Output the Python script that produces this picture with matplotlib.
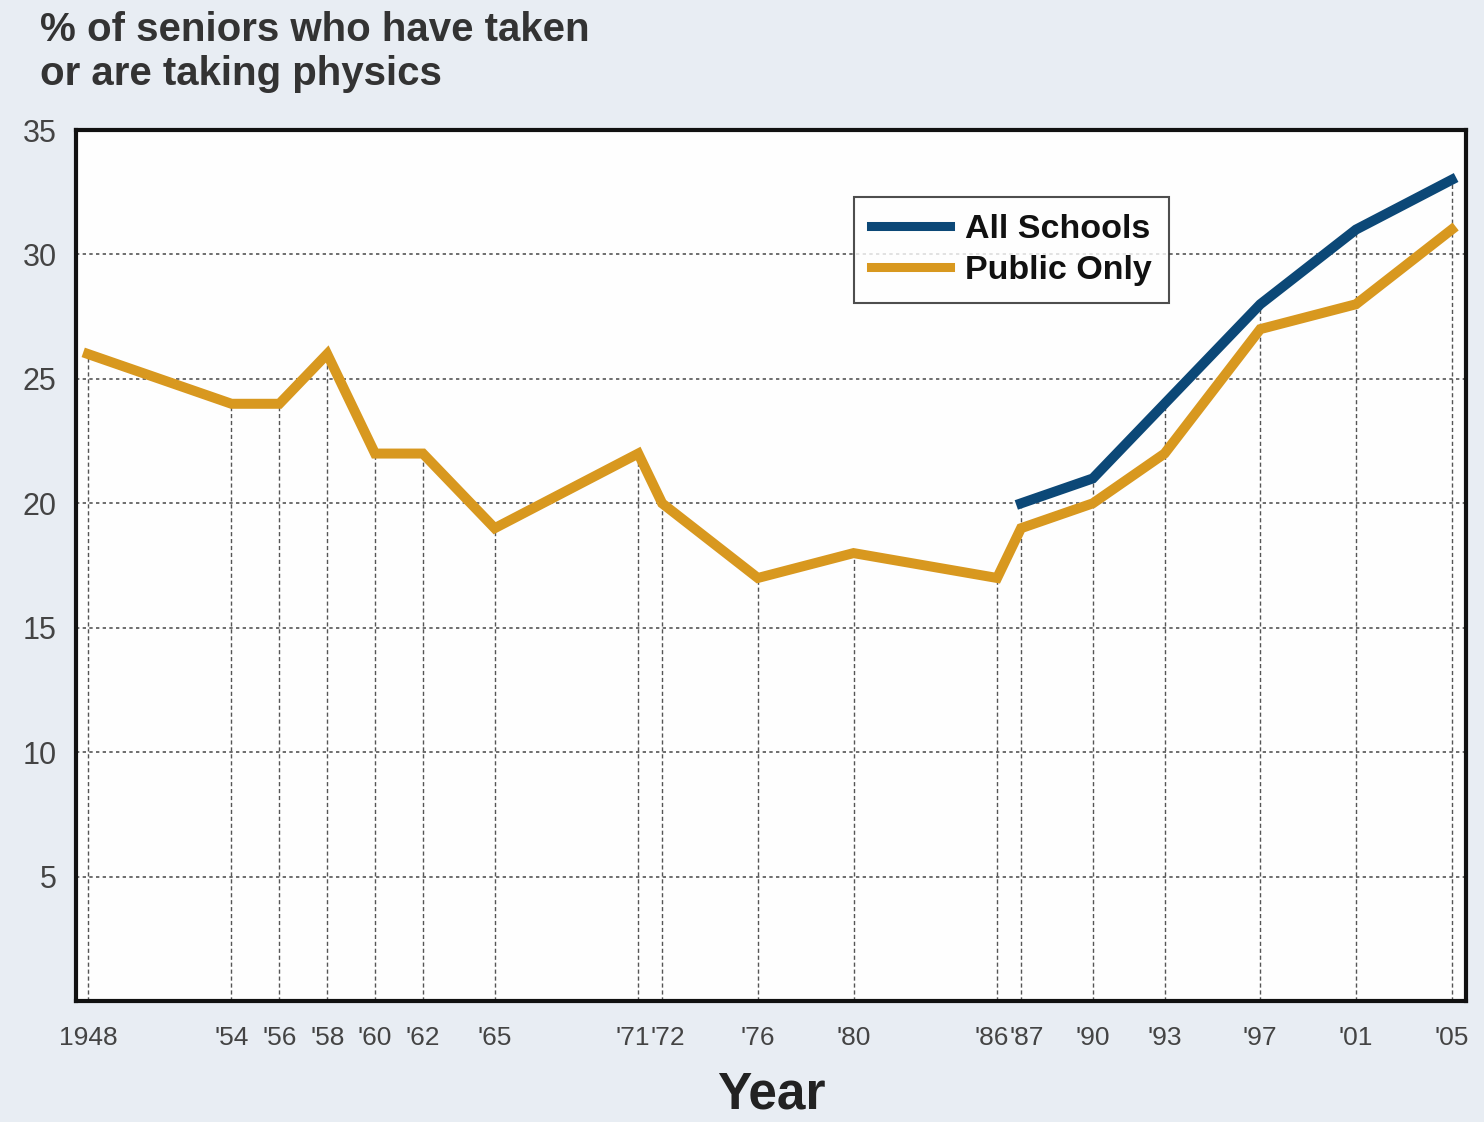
import matplotlib
matplotlib.use("Agg")
import matplotlib.pyplot as plt
import matplotlib.transforms as mtransforms

# survey years and percentages
years = [1948, 1954, 1956, 1958, 1960, 1962, 1965, 1971, 1972, 1976,
         1980, 1986, 1987, 1990, 1993, 1997, 2001, 2005]
public_only = [26, 24, 24, 26, 22, 22, 19, 22, 20, 17,
               18, 17, 19, 20, 22, 27, 28, 31]
all_years = [1987, 1990, 1993, 1997, 2001, 2005]
all_schools = [20, 21, 24, 28, 31, 33]
year_labels = ["1948", "'54", "'56", "'58", "'60", "'62", "'65", "'71", "'72", "'76",
               "'80", "'86", "'87", "'90", "'93", "'97", "'01", "'05"]
y_ticks = [5, 10, 15, 20, 25, 30, 35]

BLUE = "#0c4877"
GOLD = "#d8981f"
BG = "#e8edf3"
TICK_FONT = ["Liberation Sans", "DejaVu Sans"]

fig = plt.figure(figsize=(14.84, 11.22), dpi=100, facecolor=BG)
ax = fig.add_axes([0.0512, 0.1078, 0.9367, 0.7763])
ax.set_facecolor("#fefefe")

ax.set_xlim(1947.5, 2005.6)
ax.set_ylim(0, 35)

# dotted horizontal reference lines
for v in y_ticks[:-1]:
    ax.axhline(v, color="#555555", lw=1.2, ls=(0, (2, 2)), zorder=1)

# dashed drop lines from each survey point down to the axis
top_vals = dict(zip(years, public_only))
for yr, v in zip(all_years, all_schools):
    top_vals[yr] = max(top_vals[yr], v)
for yr in years:
    ax.plot([yr, yr], [0, top_vals[yr]], color="#555555", lw=1.0,
            ls=(0, (3, 2)), zorder=1)

ax.plot(all_years, all_schools, color=BLUE, lw=7.2, label="All Schools",
        solid_joinstyle="miter", zorder=3)
ax.plot(years, public_only, color=GOLD, lw=7.2, label="Public Only",
        solid_joinstyle="miter", zorder=3)

for s in ax.spines.values():
    s.set_linewidth(3)
    s.set_color("#111111")

ax.set_xticks(years)
ax.set_xticklabels(year_labels, family=TICK_FONT, fontsize=19, color="#444444")
ax.set_yticks(y_ticks)
ax.set_yticklabels([str(v) for v in y_ticks], family=TICK_FONT, fontsize=22,
                   color="#444444")
ax.tick_params(axis="x", length=0, pad=18)
ax.tick_params(axis="y", length=0, pad=14)

# close pairs of years: push the two labels apart so they sit side by side
pairs_left = {"'71", "'86"}
pairs_right = {"'72", "'87"}
for lbl in ax.get_xticklabels():
    txt = lbl.get_text()
    if txt in pairs_left:
        lbl.set_horizontalalignment("right")
        lbl.set_transform(lbl.get_transform() +
                          mtransforms.ScaledTranslation(12 / 100, 0, fig.dpi_scale_trans))
    elif txt in pairs_right:
        lbl.set_horizontalalignment("left")
        lbl.set_transform(lbl.get_transform() +
                          mtransforms.ScaledTranslation(-12 / 100, 0, fig.dpi_scale_trans))

ax.set_xlabel("Year", family=TICK_FONT, fontsize=37, fontweight="bold",
              color="#222222", labelpad=15)

fig.text(40 / 1484, 1 - 11 / 1122, "% of seniors who have taken\nor are taking physics",
         family=TICK_FONT, fontsize=29, fontweight="bold", color="#333333",
         va="top", ha="left", linespacing=1.2)

leg = ax.legend(loc="upper left", bbox_to_anchor=(0.560, 0.923), frameon=True,
                fancybox=False, prop={"family": TICK_FONT, "weight": "bold", "size": 24.5},
                handlelength=2.3, handletextpad=0.45, borderpad=0.5,
                labelspacing=0.3, borderaxespad=0)
leg.get_frame().set_edgecolor("#222222")
leg.get_frame().set_linewidth(1.5)
for line in leg.get_lines():
    line.set_linewidth(6.5)
for t in leg.get_texts():
    t.set_color("#111111")

fig.savefig("out.png", dpi=100, facecolor=BG)
